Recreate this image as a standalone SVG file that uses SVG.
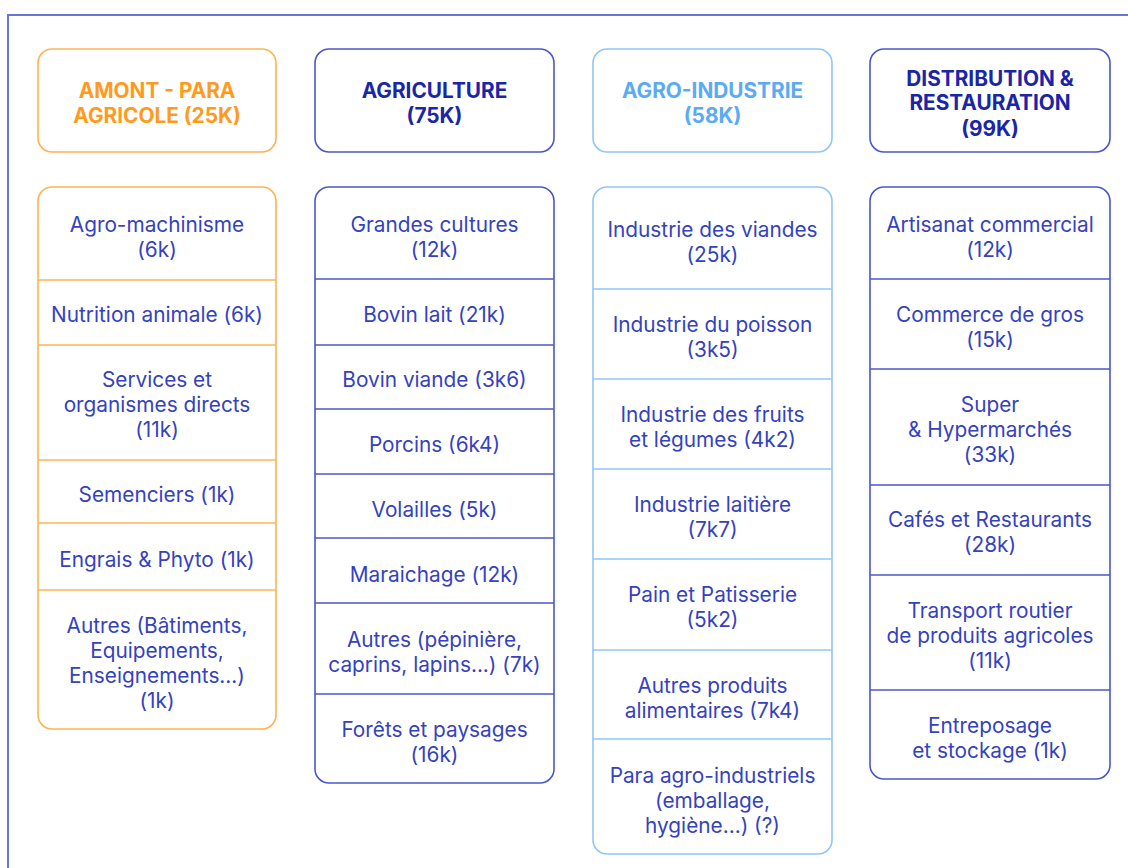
<svg xmlns="http://www.w3.org/2000/svg" width="1128" height="868" viewBox="0 0 1128 868">
<style>
.frame{fill:none;stroke:#6a73d6;stroke-width:2}
.box{fill:#fff;stroke-width:1.6}
.o{stroke:#ffb350}
.d{stroke:#4b57c9}
.l{stroke:#8fc6f8}
.div{stroke-width:1.4}
text{font-family:Inter,"Liberation Sans",sans-serif;text-anchor:middle}
.h{font-size:20.8px;font-weight:700}
.ho{fill:#ff9a1c}
.hd{fill:#1b25a8}
.hl{fill:#5aaaf4}
.t{font-size:20.8px;fill:#3442c0}
</style>
<rect x="0" y="0" width="1128" height="868" fill="#fff"/>
<path class="frame" d="M8 868 V15 H1128"/>

<g id="col1">
<g id="h1"><rect class="box o" x="38" y="49" width="238" height="103" rx="14"/>
<text class="h ho" x="157" y="97.5">AMONT - PARA</text><text class="h ho" x="157" y="122.5">AGRICOLE (25K)</text></g>
<g id="b1"><rect class="box o" x="38" y="187" width="238" height="542" rx="14"/>
<g class="o div"><line x1="38" y1="280" x2="276" y2="280"/><line x1="38" y1="345" x2="276" y2="345"/><line x1="38" y1="460" x2="276" y2="460"/><line x1="38" y1="523" x2="276" y2="523"/><line x1="38" y1="590" x2="276" y2="590"/></g>
<text class="t" x="157" y="231.5">Agro-machinisme</text><text class="t" x="157" y="256.5">(6k)</text>
<text class="t" x="157" y="321.5">Nutrition animale (6k)</text>
<text class="t" x="157" y="386.5">Services et</text><text class="t" x="157" y="411.5">organismes directs</text><text class="t" x="157" y="436.5">(11k)</text>
<text class="t" x="157" y="501.5">Semenciers (1k)</text>
<text class="t" x="157" y="566.5">Engrais &amp; Phyto (1k)</text>
<text class="t" x="157" y="632.5">Autres (Bâtiments,</text><text class="t" x="157" y="657.5">Equipements,</text><text class="t" x="157" y="682.5">Enseignements...)</text><text class="t" x="157" y="707.5">(1k)</text>
</g>
</g>

<g id="col2">
<g id="h2"><rect class="box d" x="315" y="49" width="239" height="103" rx="14"/>
<text class="h hd" x="434.5" y="97.5">AGRICULTURE</text><text class="h hd" x="434.5" y="122.5">(75K)</text></g>
<g id="b2"><rect class="box d" x="315" y="187" width="239" height="596" rx="14"/>
<g class="d div"><line x1="315" y1="279" x2="554" y2="279"/><line x1="315" y1="345" x2="554" y2="345"/><line x1="315" y1="409" x2="554" y2="409"/><line x1="315" y1="474" x2="554" y2="474"/><line x1="315" y1="538" x2="554" y2="538"/><line x1="315" y1="603" x2="554" y2="603"/><line x1="315" y1="694" x2="554" y2="694"/></g>
<text class="t" x="434.5" y="231.5">Grandes cultures</text><text class="t" x="434.5" y="256.5">(12k)</text>
<text class="t" x="434.5" y="321.5">Bovin lait (21k)</text>
<text class="t" x="434.5" y="386.5">Bovin viande (3k6)</text>
<text class="t" x="434.5" y="451.5">Porcins (6k4)</text>
<text class="t" x="434.5" y="516.5">Volailles (5k)</text>
<text class="t" x="434.5" y="581.5">Maraichage (12k)</text>
<text class="t" x="434.5" y="646.5">Autres (pépinière,</text><text class="t" x="434.5" y="671.5">caprins, lapins...) (7k)</text>
<text class="t" x="434.5" y="736.5">Forêts et paysages</text><text class="t" x="434.5" y="761.5">(16k)</text>
</g>
</g>

<g id="col3">
<g id="h3"><rect class="box l" x="593" y="49" width="239" height="103" rx="14"/>
<text class="h hl" x="712.5" y="97.5">AGRO-INDUSTRIE</text><text class="h hl" x="712.5" y="122.5">(58K)</text></g>
<g id="b3"><rect class="box l" x="593" y="187" width="239" height="667" rx="14"/>
<g class="l div"><line x1="593" y1="289" x2="832" y2="289"/><line x1="593" y1="379" x2="832" y2="379"/><line x1="593" y1="469" x2="832" y2="469"/><line x1="593" y1="559" x2="832" y2="559"/><line x1="593" y1="650" x2="832" y2="650"/><line x1="593" y1="739" x2="832" y2="739"/></g>
<text class="t" x="712.5" y="236.5">Industrie des viandes</text><text class="t" x="712.5" y="261.5">(25k)</text>
<text class="t" x="712.5" y="331.5">Industrie du poisson</text><text class="t" x="712.5" y="356.5">(3k5)</text>
<text class="t" x="712.5" y="421.5">Industrie des fruits</text><text class="t" x="712.5" y="446.5">et légumes (4k2)</text>
<text class="t" x="712.5" y="511.5">Industrie laitière</text><text class="t" x="712.5" y="536.5">(7k7)</text>
<text class="t" x="712.5" y="601.5">Pain et Patisserie</text><text class="t" x="712.5" y="626.5">(5k2)</text>
<text class="t" x="712.5" y="692.5">Autres produits</text><text class="t" x="712.5" y="717.5">alimentaires (7k4)</text>
<text class="t" x="712.5" y="782.5">Para agro-industriels</text><text class="t" x="712.5" y="807.5">(emballage,</text><text class="t" x="712.5" y="832.5">hygiène...) (?)</text>
</g>
</g>

<g id="col4">
<g id="h4"><rect class="box d" x="870" y="49" width="240" height="103" rx="14"/>
<text class="h hd" x="990" y="85.5">DISTRIBUTION &amp;</text><text class="h hd" x="990" y="109.5">RESTAURATION</text><text class="h hd" x="990" y="135.5">(99K)</text></g>
<g id="b4"><rect class="box d" x="870" y="187" width="240" height="592" rx="14"/>
<g class="d div"><line x1="870" y1="279" x2="1110" y2="279"/><line x1="870" y1="369" x2="1110" y2="369"/><line x1="870" y1="485" x2="1110" y2="485"/><line x1="870" y1="575" x2="1110" y2="575"/><line x1="870" y1="690" x2="1110" y2="690"/></g>
<text class="t" x="990" y="231.5">Artisanat commercial</text><text class="t" x="990" y="256.5">(12k)</text>
<text class="t" x="990" y="321.5">Commerce de gros</text><text class="t" x="990" y="346.5">(15k)</text>
<text class="t" x="990" y="411.5">Super</text><text class="t" x="990" y="436.5">&amp; Hypermarchés</text><text class="t" x="990" y="461.5">(33k)</text>
<text class="t" x="990" y="526.5">Cafés et Restaurants</text><text class="t" x="990" y="551.5">(28k)</text>
<text class="t" x="990" y="617.5">Transport routier</text><text class="t" x="990" y="642.5">de produits agricoles</text><text class="t" x="990" y="667.5">(11k)</text>
<text class="t" x="990" y="732.5">Entreposage</text><text class="t" x="990" y="757.5">et stockage (1k)</text>
</g>
</g>
</svg>
